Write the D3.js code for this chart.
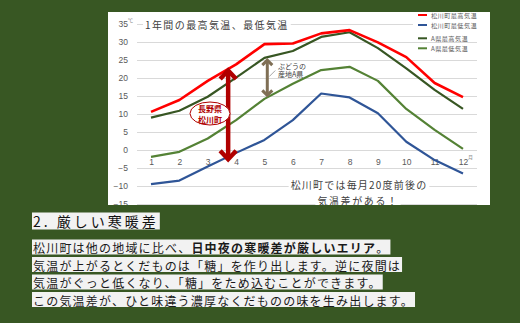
<!DOCTYPE html>
<html>
<head>
<meta charset="utf-8">
<script src="https://cdn.jsdelivr.net/npm/d3@7"></script>
<style>
  html, body { margin: 0; padding: 0; background: #385723; }
  svg { display: block; }
</style>
</head>
<body>
<svg id="chart" width="520" height="323"></svg>
<script>
// Monthly temperatures (°C)
const months = [1, 2, 3, 4, 5, 6, 7, 8, 9, 10, 11, 12];
const matsukawaMax = [10.6, 13.9, 19.2, 23.8, 29.4, 29.6, 32.4, 33.3, 29.9, 25.8, 18.6, 14.7];
const matsukawaMin = [-9.5, -8.5, -4.6, -0.8, 2.8, 8.3, 15.7, 14.6, 10.2, 2.3, -2.8, -6.5];
const prefAMax = [9.0, 10.9, 14.8, 20.1, 25.6, 27.5, 31.4, 32.7, 28.3, 22.7, 16.7, 11.4];
const prefAMin = [-1.9, -0.5, 3.2, 8.3, 14.2, 18.4, 22.2, 23.1, 19.2, 11.4, 5.6, 0.3];
const yTicks = [35, 30, 25, 20, 15, 10, 5, 0, -5, -10, -15];

const seriesNames = ["松川町最高気温", "松川町最低気温", "A県最高気温", "A県最低気温"];
const seriesColors = ["#ff0000", "#2f5597", "#375623", "#548235"];
const seriesValues = [matsukawaMax, matsukawaMin, prefAMax, prefAMin];

const chartTitle = "1年間の最高気温、最低気温";
const sectionTitle = "2. 厳しい寒暖差";
const bodyLines = [
  [["松川町は他の地域に比べ、", false], ["日中夜の寒暖差が厳しいエリア", true], ["。", false]],
  [["気温が上がるとくだものは「糖」を作り出します。逆に夜間は", false]],
  [["気温がぐっと低くなり、「糖」をため込むことができます。", false]],
  [["この気温差が、ひと味違う濃厚なくだものの味を生み出します。", false]]
];

const JP = "'Noto Sans CJK JP', 'Noto Sans', sans-serif";
const svg = d3.select("#chart");

// page background
svg.append("rect").attr("width", 520).attr("height", 323).attr("fill", "#385723");

// chart panel
const panel = { x: 108, y: 12, w: 382, h: 193 };
svg.append("defs").append("clipPath").attr("id", "panelClip")
  .append("rect").attr("x", panel.x).attr("y", panel.y).attr("width", panel.w).attr("height", panel.h);
svg.append("rect").attr("x", panel.x).attr("y", panel.y).attr("width", panel.w).attr("height", panel.h).attr("fill", "#ffffff");

const g = svg.append("g").attr("clip-path", "url(#panelClip)");

const x = d3.scalePoint().domain(months).range([151, 463]);
const y = d3.scaleLinear().domain([-15, 35]).range([204, 24]);

// gridlines + value labels
const yAxis = d3.axisLeft(y).tickValues(yTicks).tickSize(-(477 - 137)).tickPadding(9).tickFormat(d3.format("d"));
const yG = g.append("g").attr("transform", "translate(137,0)").call(yAxis);
yG.select(".domain").remove();
yG.selectAll(".tick line").attr("stroke", "#d9d9d9").attr("stroke-width", 1);
yG.selectAll(".tick text").attr("fill", "#595959").attr("font-size", 8.5).attr("font-family", "'Liberation Sans', Arial, sans-serif");

// month labels sitting just under the zero line
const xAxis = d3.axisBottom(x).tickSize(0).tickPadding(0);
const xG = g.append("g").attr("transform", `translate(0,${y(0) + 12})`).call(xAxis);
xG.select(".domain").remove();
xG.selectAll(".tick text").attr("fill", "#595959").attr("font-size", 8.5).attr("font-family", "'Liberation Sans', Arial, sans-serif").attr("dy", "0.32em");
g.append("text").attr("x", x(12) + 5).attr("y", y(0) + 9).attr("font-size", 5).attr("fill", "#8c8c8c").attr("font-family", JP).text("月");
g.append("text").attr("x", 128).attr("y", y(35) - 2).attr("font-size", 5).attr("fill", "#8c8c8c").attr("font-family", JP).text("℃");

// series lines
const line = d3.line().x((d, i) => x(months[i])).y(d => y(d));
const drawOrder = [1, 3, 2, 0];
drawOrder.forEach(si => {
  g.append("path").datum(seriesValues[si])
    .attr("d", line).attr("fill", "none")
    .attr("stroke", seriesColors[si]).attr("stroke-width", si === 0 ? 2.6 : 2.2)
    .attr("stroke-linejoin", "round");
});

// text with a solid backing strip
function backedText(parent, opts) {
  const t = parent.append("text")
    .attr("x", opts.x).attr("y", opts.y)
    .attr("font-size", opts.size).attr("font-family", JP)
    .attr("fill", opts.color).attr("letter-spacing", opts.ls || 0)
    .attr("text-anchor", opts.anchor || "start")
    .attr("dominant-baseline", "central")
    .attr("font-weight", opts.weight || "normal")
    .text(opts.text);
  const b = t.node().getBBox();
  parent.insert("rect", () => t.node())
    .attr("x", b.x - (opts.padX || 1)).attr("y", opts.y - opts.boxH / 2)
    .attr("width", b.width + 2 * (opts.padX || 1)).attr("height", opts.boxH)
    .attr("fill", opts.bg);
  return t;
}
backedText(g, { x: 145, y: 24, size: 10, color: "#404040", ls: 1.4, text: chartTitle, bg: "#ffffff", boxH: 14, padX: 2 });

// legend
const lg = g.append("g");
lg.append("rect").attr("x", 413).attr("y", 12).attr("width", 77).attr("height", 21).attr("fill", "#ffffff");
const legendY = [15, 25, 38.3, 48.3];
seriesNames.forEach((name, i) => {
  lg.append("line").attr("x1", 418).attr("x2", 427).attr("y1", legendY[i]).attr("y2", legendY[i])
    .attr("stroke", seriesColors[i]).attr("stroke-width", 2);
  lg.append("text").attr("x", 431).attr("y", legendY[i]).attr("dominant-baseline", "central")
    .attr("font-size", 6.2).attr("letter-spacing", 0.4).attr("fill", "#595959").attr("font-family", JP).text(name);
});

// interpolate a series at a fractional month
function valueAt(series, m) {
  const i = Math.floor(m) - 1, f = m - Math.floor(m);
  return series[i] + f * (series[i + 1] - series[i]);
}

// Matsukawa range arrow (max to min)
const redArrowM = 3.72;
const rx = x(1) + (x(2) - x(1)) * (redArrowM - 1);
const rTop = y(valueAt(matsukawaMax, redArrowM));
const rBot = y(valueAt(matsukawaMin, redArrowM)) + 4;
const arrowRed = "#b00000";
g.append("line").attr("x1", rx).attr("x2", rx).attr("y1", rTop + 2).attr("y2", rBot - 2)
  .attr("stroke", arrowRed).attr("stroke-width", 4.5);
g.append("path").attr("d", `M${rx - 8},${rTop + 10} L${rx},${rTop + 1.5} L${rx + 8},${rTop + 10}`)
  .attr("fill", "none").attr("stroke", arrowRed).attr("stroke-width", 4.5).attr("stroke-linejoin", "miter");
g.append("path").attr("d", `M${rx - 8},${rBot - 10} L${rx},${rBot - 1.5} L${rx + 8},${rBot - 10}`)
  .attr("fill", "none").attr("stroke", arrowRed).attr("stroke-width", 4.5).attr("stroke-linejoin", "miter");
g.append("ellipse").attr("cx", 210).attr("cy", 113.5).attr("rx", 20).attr("ry", 11.5)
  .attr("fill", "#ffffff").attr("stroke", arrowRed).attr("stroke-width", 1);
[["長野県", 108.5], ["松川町", 119]].forEach(([t, ty]) => {
  g.append("text").attr("x", 210).attr("y", ty).attr("text-anchor", "middle").attr("dominant-baseline", "central")
    .attr("font-size", 8).attr("font-weight", "bold").attr("fill", arrowRed).attr("font-family", JP).text(t);
});

// Prefecture A range arrow
const brownArrowM = 5.1;
const bx = x(1) + (x(2) - x(1)) * (brownArrowM - 1);
const bTop = y(valueAt(prefAMax, brownArrowM)) + 2;
const bBot = y(valueAt(prefAMin, brownArrowM)) - 1;
const arrowBrown = "#7f6f55";
g.append("line").attr("x1", bx).attr("x2", bx).attr("y1", bTop + 1).attr("y2", bBot - 1)
  .attr("stroke", arrowBrown).attr("stroke-width", 3);
g.append("path").attr("d", `M${bx - 5},${bTop + 6} L${bx},${bTop + 1} L${bx + 5},${bTop + 6}`)
  .attr("fill", "none").attr("stroke", arrowBrown).attr("stroke-width", 3);
g.append("path").attr("d", `M${bx - 5},${bBot - 6} L${bx},${bBot - 1} L${bx + 5},${bBot - 6}`)
  .attr("fill", "none").attr("stroke", arrowBrown).attr("stroke-width", 3);
g.append("line").attr("x1", bx + 2).attr("y1", 76.5).attr("x2", bx + 8).attr("y2", 70.5)
  .attr("stroke", "#7f7f7f").attr("stroke-width", 0.7);
[["ぶどうの", 65.5], ["産地A県", 74]].forEach(([t, ty]) => {
  g.append("text").attr("x", 278).attr("y", ty).attr("dominant-baseline", "central")
    .attr("font-size", 7).attr("fill", "#404040").attr("font-family", JP).text(t);
});

// annotation under the chart
backedText(g, { x: 359, y: 184, size: 10, color: "#404040", ls: 1.2, anchor: "middle", text: "松川町では毎月20度前後の", bg: "#ffffff", boxH: 13, padX: 2 });
backedText(g, { x: 358, y: 200, size: 10, color: "#404040", ls: 1.6, anchor: "middle", text: "気温差がある！", bg: "#ffffff", boxH: 13, padX: 2 });

// section heading
backedText(svg, { x: 33, y: 221, size: 14, color: "#111111", ls: 3, text: sectionTitle, bg: "#f2f2f2", boxH: 17, padX: 1 });

// body text, each line on its own light strip
const lineY = [247, 264.5, 282, 299.5];
bodyLines.forEach((segs, i) => {
  const t = svg.append("text").attr("x", 33).attr("y", lineY[i])
    .attr("dominant-baseline", "central").attr("font-size", 12).attr("letter-spacing", 1.2)
    .attr("fill", "#1a1a1a").attr("font-family", JP);
  segs.forEach(([s, bold]) => t.append("tspan").attr("font-weight", bold ? "bold" : "normal").text(s));
  const b = t.node().getBBox();
  svg.insert("rect", () => t.node())
    .attr("x", 32).attr("y", lineY[i] - 7.5).attr("width", b.x + b.width - 32 + 1).attr("height", 15)
    .attr("fill", "#f2f2f2");
});
</script>
</body>
</html>
